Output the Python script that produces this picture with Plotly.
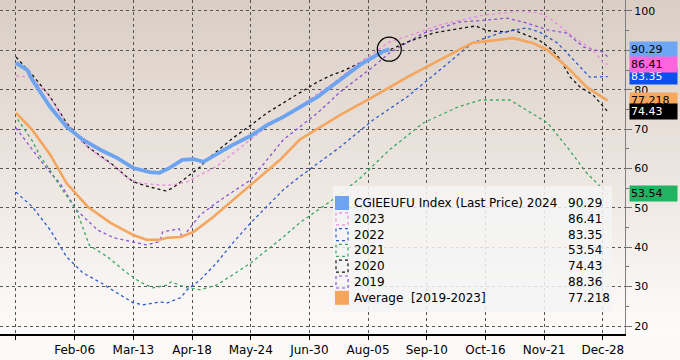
import plotly.graph_objects as go

# ---------------- data (x = day of year, 0 = Jan-01) ----------------
day_2024 = [0, 7, 10, 15, 21, 31, 41, 52, 62, 72, 82, 88, 94, 102, 109, 115, 123, 133, 144, 154, 164, 174, 185, 194, 199, 211, 225, 229]
val_2024 = [86.8, 85, 82.5, 79.2, 75.6, 70.6, 67.3, 64.7, 62.7, 60.1, 59.1, 58.9, 60.1, 62.2, 62.4, 61.7, 63.7, 66, 68.3, 71, 73.1, 75.6, 78.2, 81, 82.6, 86.3, 89.7, 90.29]

day_2023 = [0, 9, 19, 31, 41, 52, 62, 68, 76, 88, 96, 105, 113, 123, 133, 144, 154, 174, 194, 211, 229, 243, 260, 285, 309, 321, 329, 342, 354, 360, 363]
val_2023 = [83.5, 83.2, 79.2, 71.6, 66.5, 62.9, 60.1, 57.6, 56.3, 55.8, 55.8, 56.6, 58.4, 60.5, 63.8, 67.3, 70.6, 75.8, 81.5, 87, 92.1, 94, 96.5, 98.8, 100, 99.5, 97.7, 93.4, 90.1, 87, 86.41]

day_2022 = [0, 10, 21, 31, 41, 52, 62, 72, 78, 88, 93, 101, 105, 113, 123, 133, 144, 154, 164, 174, 188, 199, 219, 240, 260, 280, 297, 313, 321, 332, 342, 352, 363]
val_2022 = [54, 50.3, 44.4, 37.6, 33.5, 31, 28.4, 25.9, 25.4, 26.1, 25.9, 27.2, 29.2, 31.7, 36, 41.1, 46.2, 50.3, 54.6, 57.9, 62.2, 65.5, 72.3, 78.2, 85, 91.9, 94.4, 95.7, 94.7, 91.9, 87.6, 83.2, 83.35]

day_2021 = [1, 10, 15, 21, 27, 37, 45, 56, 68, 76, 84, 93, 95, 105, 113, 123, 133, 144, 154, 164, 174, 185, 194, 211, 229, 250, 271, 285, 303, 313, 326, 338, 350, 363]
val_2021 = [72.5, 67, 63, 59.5, 55.5, 49.5, 40.5, 37.6, 33.5, 31.2, 29.7, 30.4, 31.2, 29.7, 29.2, 30.4, 33, 36, 39.3, 42.6, 46.2, 49.5, 52, 57.5, 64.7, 71.6, 75.6, 77.4, 77.4, 74.9, 71.6, 65.5, 58.9, 53.54]

day_2020 = [0, 10, 21, 31, 44, 58, 68, 72, 82, 92, 96, 105, 113, 117, 133, 144, 154, 174, 185, 194, 199, 211, 229, 240, 256, 268, 282, 289, 301, 305, 313, 321, 329, 334, 340, 346, 354, 363]
val_2020 = [88.3, 83.8, 78.2, 71.6, 65.5, 61.4, 57.9, 56.6, 55.3, 54.3, 55, 57.9, 60.4, 62.2, 67.7, 71, 74.1, 79.2, 82, 83.8, 84.5, 86.8, 90.1, 92.1, 94.4, 95.2, 96.2, 95, 94.7, 95.2, 93.9, 92.6, 90.1, 87.6, 83.2, 80.7, 78.7, 74.43]

day_2019 = [0, 10, 17, 23, 27, 37, 50, 60, 72, 80, 88, 90, 100, 102, 113, 123, 133, 144, 154, 164, 185, 199, 219, 229, 250, 272, 289, 301, 313, 326, 338, 348, 360, 363]
val_2019 = [70.3, 64.7, 61, 58, 56.3, 49.5, 44.4, 42.4, 41.4, 40.6, 41.4, 43.9, 44.7, 42.4, 48.2, 51.3, 54.1, 57.1, 62.2, 67.3, 74.1, 79.5, 85.8, 89.3, 94.4, 97.2, 97.7, 98.2, 97, 95.2, 94.4, 90.9, 89.6, 88.36]

day_avg = [0, 10, 21, 31, 44, 58, 72, 80, 88, 93, 101, 109, 121, 133, 145, 162, 174, 199, 219, 240, 260, 280, 305, 317, 326, 338, 350, 363]
val_avg = [74.1, 69.8, 63.5, 56.3, 50.3, 46.2, 43.1, 41.9, 41.9, 42.4, 42.6, 43.9, 47.7, 52, 56.3, 62.2, 67.3, 73.6, 78.2, 83.2, 87.6, 91.9, 93.1, 91.9, 90.1, 85.8, 80.7, 77.218]

tick_days = [0, 36, 72, 108, 144, 180, 216, 252, 288, 324, 360]
tick_labels = ["", "Feb-06", "Mar-13", "Apr-18", "May-24", "Jun-30", "Aug-05", "Sep-10", "Oct-16", "Nov-21", "Dec-28"]

legend_names = ["CGIEEUFU Index (Last Price) 2024", "2023", "2022", "2021", "2020", "2019", "Average\u00a0\u00a0[2019-2023]"]
legend_values = ["90.29", "86.41", "83.35", "53.54", "74.43", "88.36", "77.218"]

# ---------------- styles ----------------
FONT = "DejaVu Sans"
C24, C23, C22, C21, C20, C19, CAVG = "#6ea3f0", "#e68ae0", "#2a5bd0", "#3aa862", "#111111", "#8a50d8", "#f5a55c"

fig = go.Figure()
series = [
    (day_2019, val_2019, C19, "dot", 1.3),
    (day_2020, val_2020, C20, "dot", 1.3),
    (day_2021, val_2021, C21, "dot", 1.3),
    (day_2022, val_2022, C22, "dot", 1.3),
    (day_2023, val_2023, C23, "dot", 1.3),
    (day_avg, val_avg, CAVG, "solid", 2.6),
    (day_2024, val_2024, C24, "solid", 3.8),
]
for d, v, c, dash, w in series:
    fig.add_trace(go.Scatter(x=d, y=v, mode="lines", line=dict(color=c, dash=dash, width=w),
                             showlegend=False, hoverinfo="skip"))

# circle around the last 2024 point
fig.add_trace(go.Scatter(x=[day_2024[-1]], y=[val_2024[-1]], mode="markers",
                         marker=dict(symbol="circle-open", size=24, color="black", line=dict(width=1.2)),
                         showlegend=False, hoverinfo="skip"))

# ---------------- background gradient ----------------
shapes = []
top = (218, 206, 196)
bot = (253, 251, 250)
n = 60
for i in range(n):
    t = i / (n - 1)
    col = tuple(round(top[k] + (bot[k] - top[k]) * t) for k in range(3))
    shapes.append(dict(type="rect", xref="paper", yref="paper", x0=-0.01, x1=1.1,
                       y0=1 - (i + 1) / n - 0.002, y1=1 - i / n + (0.02 if i == 0 else 0),
                       fillcolor="rgb(%d,%d,%d)" % col, line=dict(width=0), layer="below"))

# ---------------- legend box (manual) ----------------
PW, PH = 625.0, 334.0
def px_x(p):
    return p / PW
def px_y(p):
    return 1 - p / PH

shapes.append(dict(type="rect", xref="paper", yref="paper", x0=px_x(333), x1=px_x(612),
                   y0=px_y(312), y1=px_y(186), fillcolor="rgba(244,244,244,0.85)",
                   line=dict(width=0), layer="above"))

leg_colors = [C24, C23, C22, C21, C20, C19, CAVG]
leg_solid = [True, False, False, False, False, False, True]
annotations = []
for i, (nm, val) in enumerate(zip(legend_names, legend_values)):
    yc = 203 + i * 15.8
    if leg_solid[i]:
        shapes.append(dict(type="rect", xref="paper", yref="paper", x0=px_x(335), x1=px_x(349),
                           y0=px_y(yc + 7), y1=px_y(yc - 7), fillcolor=leg_colors[i],
                           line=dict(width=0), layer="above"))
    else:
        shapes.append(dict(type="rect", xref="paper", yref="paper", x0=px_x(336), x1=px_x(348),
                           y0=px_y(yc + 6), y1=px_y(yc - 6), fillcolor="rgba(0,0,0,0)",
                           line=dict(width=1.2, color=leg_colors[i], dash="dot"), layer="above"))
    annotations.append(dict(text=nm, xref="paper", yref="paper", x=px_x(352), y=px_y(yc),
                            xanchor="left", yanchor="middle", showarrow=False,
                            font=dict(family=FONT, size=12, color="black")))
    annotations.append(dict(text=val, xref="paper", yref="paper", x=px_x(566), y=px_y(yc),
                            xanchor="left", yanchor="middle", showarrow=False,
                            font=dict(family=FONT, size=12, color="black")))

# ---------------- right-side value flags ----------------
flags = [
    (val_2024[-1], "#6ea6f6", "black", legend_values[0]),
    (val_2022[-1], "#0a50ee", "white", legend_values[2]),
    (val_2023[-1], "#ff66dd", "black", legend_values[1]),
    (val_avg[-1], "#f8a85c", "black", legend_values[6]),
    (val_2020[-1], "#000000", "white", legend_values[4]),
    (val_2021[-1], "#20b462", "black", legend_values[3]),
]
for v, bg, fc, txt in flags:
    annotations.append(dict(text=txt, xref="paper", yref="y", x=1.0, y=v, xanchor="left",
                            yanchor="middle", xshift=4, showarrow=False, bgcolor=bg,
                            borderpad=1, width=45, align="left",
                            font=dict(family=FONT, size=11, color=fc)))

fig.update_layout(
    width=680, height=360,
    margin=dict(l=0, r=55, t=0, b=26),
    paper_bgcolor="rgb(252,250,249)",
    plot_bgcolor="rgba(0,0,0,0)",
    shapes=shapes,
    annotations=annotations,
    showlegend=False,
    font=dict(family=FONT, size=12, color="black"),
    xaxis=dict(range=[-9.8, 373.6], tickmode="array", tickvals=tick_days, ticktext=tick_labels,
               showgrid=True, gridcolor="#555555", griddash="dot", gridwidth=1,
               showline=True, linecolor="black", linewidth=1.5,
               ticks="outside", ticklen=4, tickcolor="black", zeroline=False,
               tickfont=dict(family=FONT, size=12, color="black")),
    yaxis=dict(range=[17.97, 102.79], side="right", tickmode="array",
               tickvals=[20, 30, 40, 50, 60, 70, 80, 90, 100],
               showgrid=True, gridcolor="#555555", griddash="dot", gridwidth=1,
               showline=True, linecolor="#808080", linewidth=1,
               ticks="outside", ticklen=6, tickcolor="#707070", zeroline=False,
               minor=dict(tickvals=[25, 35, 45, 55, 65, 75, 85, 95], ticks="outside", ticklen=3,
                          tickcolor="#707070", showgrid=False),
               tickfont=dict(family=FONT, size=11, color="black")),
)

fig.write_html("out.html", config={"displayModeBar": False},
               post_script="document.body.style.margin='0';document.body.style.overflow='hidden';")
